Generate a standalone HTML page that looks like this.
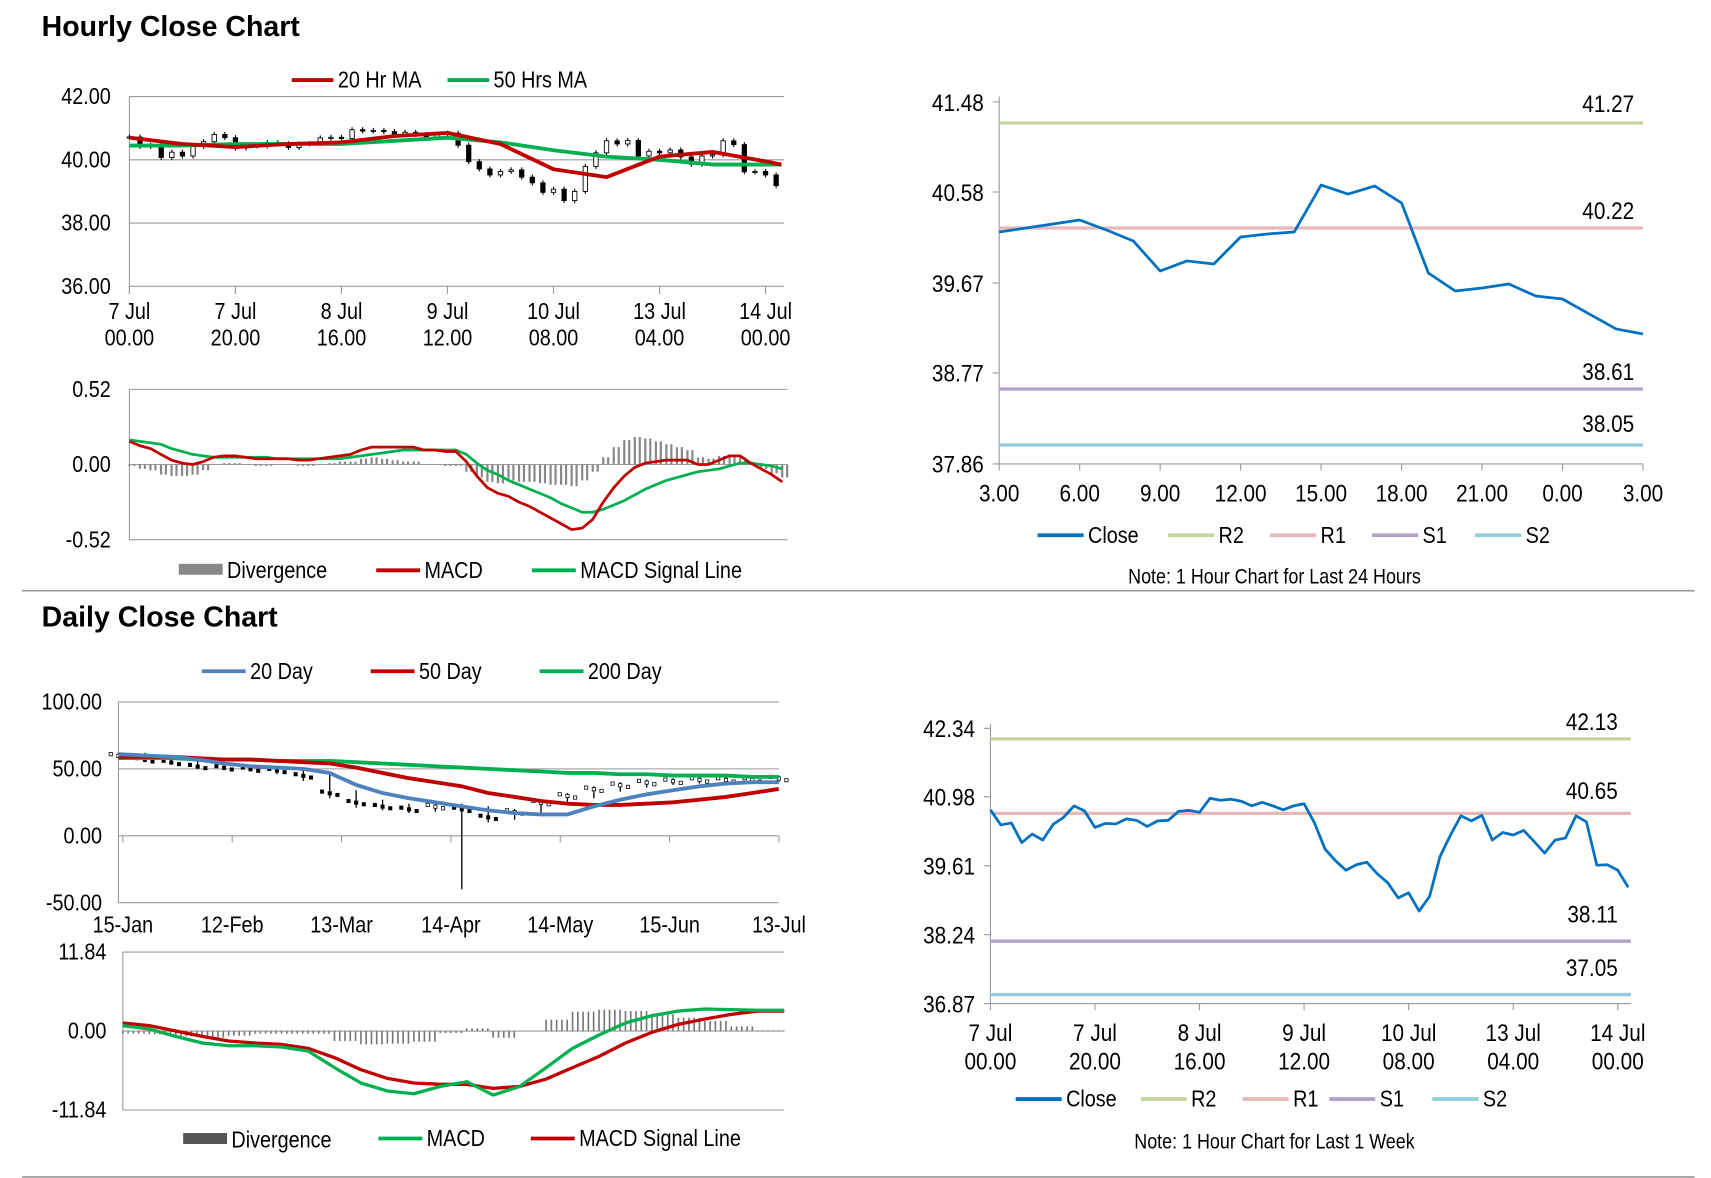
<!DOCTYPE html>
<html><head><meta charset="utf-8"><style>
html,body{margin:0;padding:0;background:#fff;}
svg{display:block;font-family:"Liberation Sans Narrow","Liberation Sans",sans-serif;}
</style></head><body>
<svg id="s" width="1711" height="1178" viewBox="0 0 1560 1074" preserveAspectRatio="none" xmlns="http://www.w3.org/2000/svg">
<text x="38" y="33" font-size="26" font-weight="bold" font-family="Liberation Sans, sans-serif">Hourly Close Chart</text>
<text x="38" y="571" font-size="26" font-weight="bold" font-family="Liberation Sans, sans-serif">Daily Close Chart</text>
<line x1="20" y1="538.5" x2="1545" y2="538.5" stroke="#999" stroke-width="1.5"/>
<line x1="20" y1="1073" x2="1545" y2="1073" stroke="#999" stroke-width="1.5"/>
</svg>
<script>
// ---- data ----
var weekHours=[];for(var i=0;i<62;i++)weekHours.push(i*2);
var weekClose=[40.72,40.42,40.46,40.07,40.24,40.12,40.43,40.57,40.80,40.70,40.37,40.45,40.44,40.54,40.51,40.39,40.50,40.51,40.69,40.71,40.67,40.95,40.91,40.93,40.89,40.80,40.87,40.80,40.72,40.80,40.84,40.46,39.94,39.71,39.52,39.63,39.68,39.45,39.27,38.97,39.07,38.71,39.00,39.79,40.22,40.60,40.50,40.61,40.12,40.27,40.22,40.31,40.09,39.86,40.12,40.16,40.60,40.48,39.62,39.63,39.52,39.18];
var maHours=[0,10,20,30,40,50,60,70,80,90,100,110,120,123];
var ma20=[40.7,40.5,40.4,40.5,40.55,40.75,40.85,40.5,39.7,39.45,40.1,40.25,39.95,39.85];
var ma50=[40.45,40.45,40.5,40.5,40.5,40.6,40.7,40.55,40.3,40.1,40.0,39.85,39.85,39.85];
var macdHours=[];for(var i=0;i<63;i++)macdHours.push(i*2);
var hMacd=[0.16,0.13,0.11,0.07,0.03,0.01,0.00,0.02,0.05,0.06,0.06,0.05,0.04,0.04,0.04,0.04,0.03,0.03,0.04,0.05,0.06,0.07,0.10,0.12,0.12,0.12,0.12,0.12,0.10,0.10,0.09,0.09,0.02,-0.08,-0.16,-0.20,-0.22,-0.26,-0.29,-0.33,-0.37,-0.41,-0.45,-0.44,-0.38,-0.26,-0.16,-0.08,-0.02,0.01,0.02,0.03,0.03,0.03,0.00,0.00,0.03,0.06,0.06,0.01,-0.03,-0.07,-0.12];
var hSignal=[0.17,0.16,0.15,0.14,0.11,0.09,0.07,0.06,0.05,0.05,0.05,0.05,0.05,0.05,0.04,0.04,0.04,0.04,0.04,0.04,0.04,0.05,0.06,0.07,0.08,0.09,0.10,0.10,0.10,0.10,0.10,0.10,0.07,0.01,-0.04,-0.07,-0.11,-0.14,-0.17,-0.20,-0.23,-0.27,-0.30,-0.33,-0.33,-0.31,-0.28,-0.25,-0.21,-0.17,-0.14,-0.11,-0.09,-0.07,-0.05,-0.04,-0.03,-0.01,0.01,0.01,0.00,-0.01,-0.03];
var dayHours=[0,1,2,3,4,5,6,7,8,9,10,11,12,13,14,15,16,17,18,19,20,21,22,23,24];
var dayCloseVals=[40.18,40.22,40.26,40.30,40.20,40.09,39.79,39.89,39.86,40.13,40.16,40.18,40.65,40.56,40.64,40.47,39.77,39.59,39.62,39.66,39.54,39.51,39.36,39.21,39.16];
var levelNames=["R2","R1","S1","S2"];
var dayLevels=[41.27,40.22,38.61,38.05];
var weekLevels=[42.13,40.65,38.11,37.05];
var levelColors=["#c3d69b","#e6b9b8","#b3a2c7","#93cddd"];
var dIdx=[];for(var i=0;i<26;i++)dIdx.push(i);
var d20=[61,60,59,57,54,52,51,50,47,38,32,28,25,22,19,17,16,16,22,27,31,34,37,39,40,40];
var d50=[59,59,59,58,57,57,56,55,54,51,47,43,40,37,32,29,26,24,23,23,24,25,27,29,32,35];
var d200=[58,58,58,57,57,57,56,56,56,55,54,53,52,51,50,49,48,47,47,46,46,45,45,45,44,44];
var dClose=[60,57,55,52,51,50,49,45,32,25,22,20,22,20,14,18,25,30,35,38,40,41,42,42,42,43];
var dLow=[58,55,53,50,49,48,46,41,28,21,19,17,19,-40,10,15,22,28,33,36,38,39,40,40,40,41];
var dMacd=[0.8,0.3,-0.8,-1.8,-2.2,-2.2,-2.4,-3.0,-5.5,-7.8,-9.0,-9.4,-8.3,-7.6,-9.6,-8.3,-5.5,-2.6,-0.6,1.2,2.3,3.0,3.3,3.2,3.1,3.1];
var dSignal=[1.2,0.8,0.0,-0.8,-1.5,-1.8,-2.0,-2.6,-4.0,-5.8,-7.1,-7.8,-8.0,-8.0,-8.6,-8.3,-7.2,-5.5,-3.8,-1.8,-0.2,1.0,1.8,2.5,3.0,3.0];
var hTickLabels=[["7 Jul","00.00"],["7 Jul","20.00"],["8 Jul","16.00"],["9 Jul","12.00"],["10 Jul","08.00"],["13 Jul","04.00"],["14 Jul","00.00"]];
var dTickLabels=["15-Jan","12-Feb","13-Mar","14-Apr","14-May","15-Jun","13-Jul"];
var dayTickLabels=["3.00","6.00","9.00","12.00","15.00","18.00","21.00","0.00","3.00"];

var S=document.getElementById('s');var NS="http://www.w3.org/2000/svg";
function mk(t,a,p){var e=document.createElementNS(NS,t);for(var k in a)e.setAttribute(k,a[k]);(p||S).appendChild(e);return e;}
function txt(x,y,s,sz,anc,name){var e=mk('text',{x:0,y:0,transform:'translate('+x+','+y+') scale(0.86,1)','font-size':sz,'text-anchor':anc||'start',fill:'#000'});e.textContent=s;

return e;}
function lin(d0,d1,r0,r1){return function(v){return r0+(v-d0)/(d1-d0)*(r1-r0);};}
function path(xs,ys,X,Y,col,w,name){var d='';for(var i=0;i<xs.length;i++)d+=(i?'L':'M')+X(xs[i]).toFixed(1)+' '+Y(ys[i]).toFixed(1);
var e=mk('path',{d:d,fill:'none',stroke:col,'stroke-width':w,'stroke-linejoin':'round'});

return e;}
function hl(x1,x2,y,col,w,name){var e=mk('line',{x1:x1,x2:x2,y1:y,y2:y,stroke:col,'stroke-width':w||1});

return e;}
function vl(x,y1,y2,col,w,name){var e=mk('line',{x1:x,x2:x,y1:y1,y2:y2,stroke:col,'stroke-width':w||1});

return e;}
function legLine(x1,x2,y,col,label,name){hl(x1,x2,y,col,3.5,name+'-swatch');txt(x2+4,y+7,label,21,'start',name+'-label');}

// ---- Hourly candle chart ----
(function(){
var X=lin(0,120,118,698),Y=lin(36,42,261,88);
[42,40,38,36].forEach(function(v){hl(118,715,Y(v),'#999',1,'h-gridline');txt(101,Y(v)+7,v.toFixed(2),21,'end','h-y-tick');});
vl(118,88,268,'#999',1,'h-y-axis');
hTickLabels.forEach(function(l,i){var x=X(i*20);vl(x,261,268,'#999',1,'h-x-tick');txt(x,291,l[0],21,'middle','h-x-label');txt(x,315,l[1],21,'middle','h-x-label');});
for(var i=0;i<weekClose.length;i++){var o=i?weekClose[i-1]:weekClose[0],c=weekClose[i];var x=X(weekHours[i]);
var hi=Math.max(o,c)+0.08,lo=Math.min(o,c)-0.08;vl(x,Y(hi),Y(lo),'#000',1,'h-candle-wick');
var r=mk('rect',{x:x-2,y:Y(Math.max(o,c)),width:4,height:Math.max(1,Math.abs(Y(o)-Y(c))),fill:c>=o?'#fff':'#000',stroke:'#000','stroke-width':0.8});

}
path(maHours,ma50,X,Y,'#00b050',3.5,'ma50-line');
path(maHours,ma20,X,Y,'#c00000',3.5,'ma20-line');
legLine(266,304,73,'#c00000','20 Hr MA','legend-ma20');
legLine(408,446,73,'#00b050','50 Hrs MA','legend-ma50');
})();

// ---- Hourly MACD ----
(function(){
var X=lin(0,120,118,694),Y=lin(-0.52,0.52,492,355);
hl(118,718,Y(0.52),'#999',1,'hm-gridline');hl(118,718,Y(0),'#999',1,'hm-zero');hl(118,718,Y(-0.52),'#999',1,'hm-gridline');
vl(118,355,492,'#999',1,'hm-y-axis');
[[0.52,'0.52'],[0,'0.00'],[-0.52,'-0.52']].forEach(function(t){txt(101,Y(t[0])+7,t[1],21,'end','hm-y-tick');});
for(var i=0;i<hMacd.length;i++){var dv=hMacd[i]-hSignal[i];var x=X(macdHours[i]);
for(var j=0;j<2;j++)vl(x+j*4.5,Y(0),Y(dv),'#888',2,'hm-divergence-bar');}
path(macdHours,hSignal,X,Y,'#00b050',2.5,'hm-signal-line');
path(macdHours,hMacd,X,Y,'#c00000',2.5,'hm-macd-line');
var r=mk('rect',{x:163,y:514,width:40,height:10,fill:'#888'});
txt(207,527,'Divergence',21,'start','legend-divergence-label');
legLine(343,383,520,'#c00000','MACD','legend-hm-macd');
legLine(485,525,520,'#00b050','MACD Signal Line','legend-hm-signal');
})();

// ---- Level charts ----
function levelChart(cfg){
var X=cfg.X,Y=cfg.Y;
vl(cfg.x0,cfg.yTop,cfg.yBot,'#999',1,cfg.n+'-y-axis');hl(cfg.x0,cfg.x1,cfg.yBot,'#999',1,cfg.n+'-x-axis');
cfg.yt.forEach(function(v){hl(cfg.x0-6,cfg.x0,Y(v),'#999',1,cfg.n+'-y-tickmark');txt(cfg.x0-14,Y(v)+8,v.toFixed(2),22,'end',cfg.n+'-y-tick');});
cfg.levels.forEach(function(v,i){hl(cfg.x0,cfg.x1,Y(v),levelColors[i],3,cfg.n+'-'+levelNames[i].toLowerCase()+'-line');
txt(cfg.lx,Y(v)+cfg.off[i],v.toFixed(2),22,'end',cfg.n+'-'+levelNames[i].toLowerCase()+'-value');});
cfg.ticks.forEach(function(t){vl(t.x,cfg.yBot,cfg.yBot+6,'#999',1,cfg.n+'-x-tickmark');t.l.forEach(function(s,j){txt(t.x,cfg.yBot+34+j*26,s,22,'middle',cfg.n+'-x-label');});});
path(cfg.xs,cfg.vals,X,Y,'#0070c0',2.5,cfg.n+'-close-line');
var lg=cfg.leg;legLine(lg[0],lg[0]+42,cfg.ly,'#0070c0','Close',cfg.n+'-legend-close');
levelNames.forEach(function(n,i){legLine(lg[i+1],lg[i+1]+42,cfg.ly,levelColors[i],n,cfg.n+'-legend-'+n.toLowerCase());});
txt(1162,cfg.ny,cfg.note,19,'middle',cfg.n+'-note');
}
(function(){
var X=lin(0,24,911,1498),Y=lin(37.86,41.48,423,93);
levelChart({n:'day24',X:X,Y:Y,x0:911,x1:1498,yTop:88,yBot:423,yt:[41.48,40.58,39.67,38.77,37.86],levels:dayLevels,lx:1490,off:[-10,-8,-8,-12],
ticks:dayTickLabels.map(function(l,i){return {x:X(i*3),l:[l]};}),xs:dayHours,vals:dayCloseVals,leg:[946,1065,1158,1251,1345],ly:488,ny:532,note:'Note: 1 Hour Chart for Last 24 Hours'});
})();
(function(){
var X=lin(0,120,903,1475),Y=lin(36.87,42.34,915,664);
levelChart({n:'week',X:X,Y:Y,x0:903,x1:1487,yTop:660,yBot:915,yt:[42.34,40.98,39.61,38.24,36.87],levels:weekLevels,lx:1475,off:[-8,-13,-17,-17],
ticks:hTickLabels.map(function(l,i){return {x:X(i*20),l:l};}),xs:weekHours,vals:weekClose,leg:[926,1040,1133,1212,1306],ly:1002,ny:1047,note:'Note: 1 Hour Chart for Last 1 Week'});
})();

// ---- Daily chart ----
(function(){
var X=lin(0,25,108,710),Y=lin(-50,100,823,640);
[100,50,0,-50].forEach(function(v){hl(108,710,Y(v),'#999',1,'d-gridline');txt(93,Y(v)+7,v.toFixed(2),21,'end','d-y-tick');});
vl(108,640,823,'#999',1,'d-y-axis');
dTickLabels.forEach(function(l,i){var x=112+i*99.7;vl(x,762,768,'#999',1,'d-x-tickmark');txt(x,850,l,21,'middle','d-x-label');});
for(var i=0;i<dClose.length;i++){var o=i?dClose[i-1]:dClose[0],c=dClose[i],x=X(i);
vl(x,Y(Math.max(o,c)+2),Y(Math.min(dLow[i],Math.min(o,c)-2)),'#000',1.2,'d-candle-wick');
for(var j=-1;j<=1;j++){var r=mk('rect',{x:x+j*7-1.5,y:Y(c+1)+j*1.5,width:3,height:3,fill:c>=o?'#fff':'#000',stroke:'#000','stroke-width':0.7});

}}
path(dIdx,d200,X,Y,'#00b050',3.5,'d200-line');
path(dIdx,d50,X,Y,'#c00000',3.5,'d50-line');
path(dIdx,d20,X,Y,'#4f81bd',3.5,'d20-line');
legLine(184,224,612,'#4f81bd','20 Day','legend-d20');
legLine(338,378,612,'#c00000','50 Day','legend-d50');
legLine(492,532,612,'#00b050','200 Day','legend-d200');
})();

// ---- Daily MACD ----
(function(){
var X=lin(0,25,112,715),Y=lin(-11.84,11.84,1012,868);
hl(112,715,Y(11.84),'#999',1,'dm-gridline');hl(112,715,Y(0),'#999',1,'dm-zero');hl(112,715,Y(-11.84),'#999',1,'dm-gridline');
vl(112,868,1012,'#999',1,'dm-y-axis');
[[11.84,'11.84'],[0,'0.00'],[-11.84,'-11.84']].forEach(function(t){txt(97,Y(t[0])+7,t[1],21,'end','dm-y-tick');});
for(var i=0;i<dMacd.length;i++){var dv=dMacd[i]-dSignal[i];for(var j=0;j<5;j++){var x=X(i)+j*4.8;if(x>715)break;vl(x,Y(0),Y(dv),'#777',1.5,'dm-divergence-bar');}}
path(dIdx,dSignal,X,Y,'#c00000',3,'dm-signal-line');
path(dIdx,dMacd,X,Y,'#00b050',3,'dm-macd-line');
var r=mk('rect',{x:167,y:1033,width:40,height:10,fill:'#555'});
txt(211,1046,'Divergence',21,'start','legend-d-divergence-label');
legLine(345,385,1038,'#00b050','MACD','legend-dm-macd');
legLine(484,524,1038,'#c00000','MACD Signal Line','legend-dm-signal');
})();
</script>
</body></html>
